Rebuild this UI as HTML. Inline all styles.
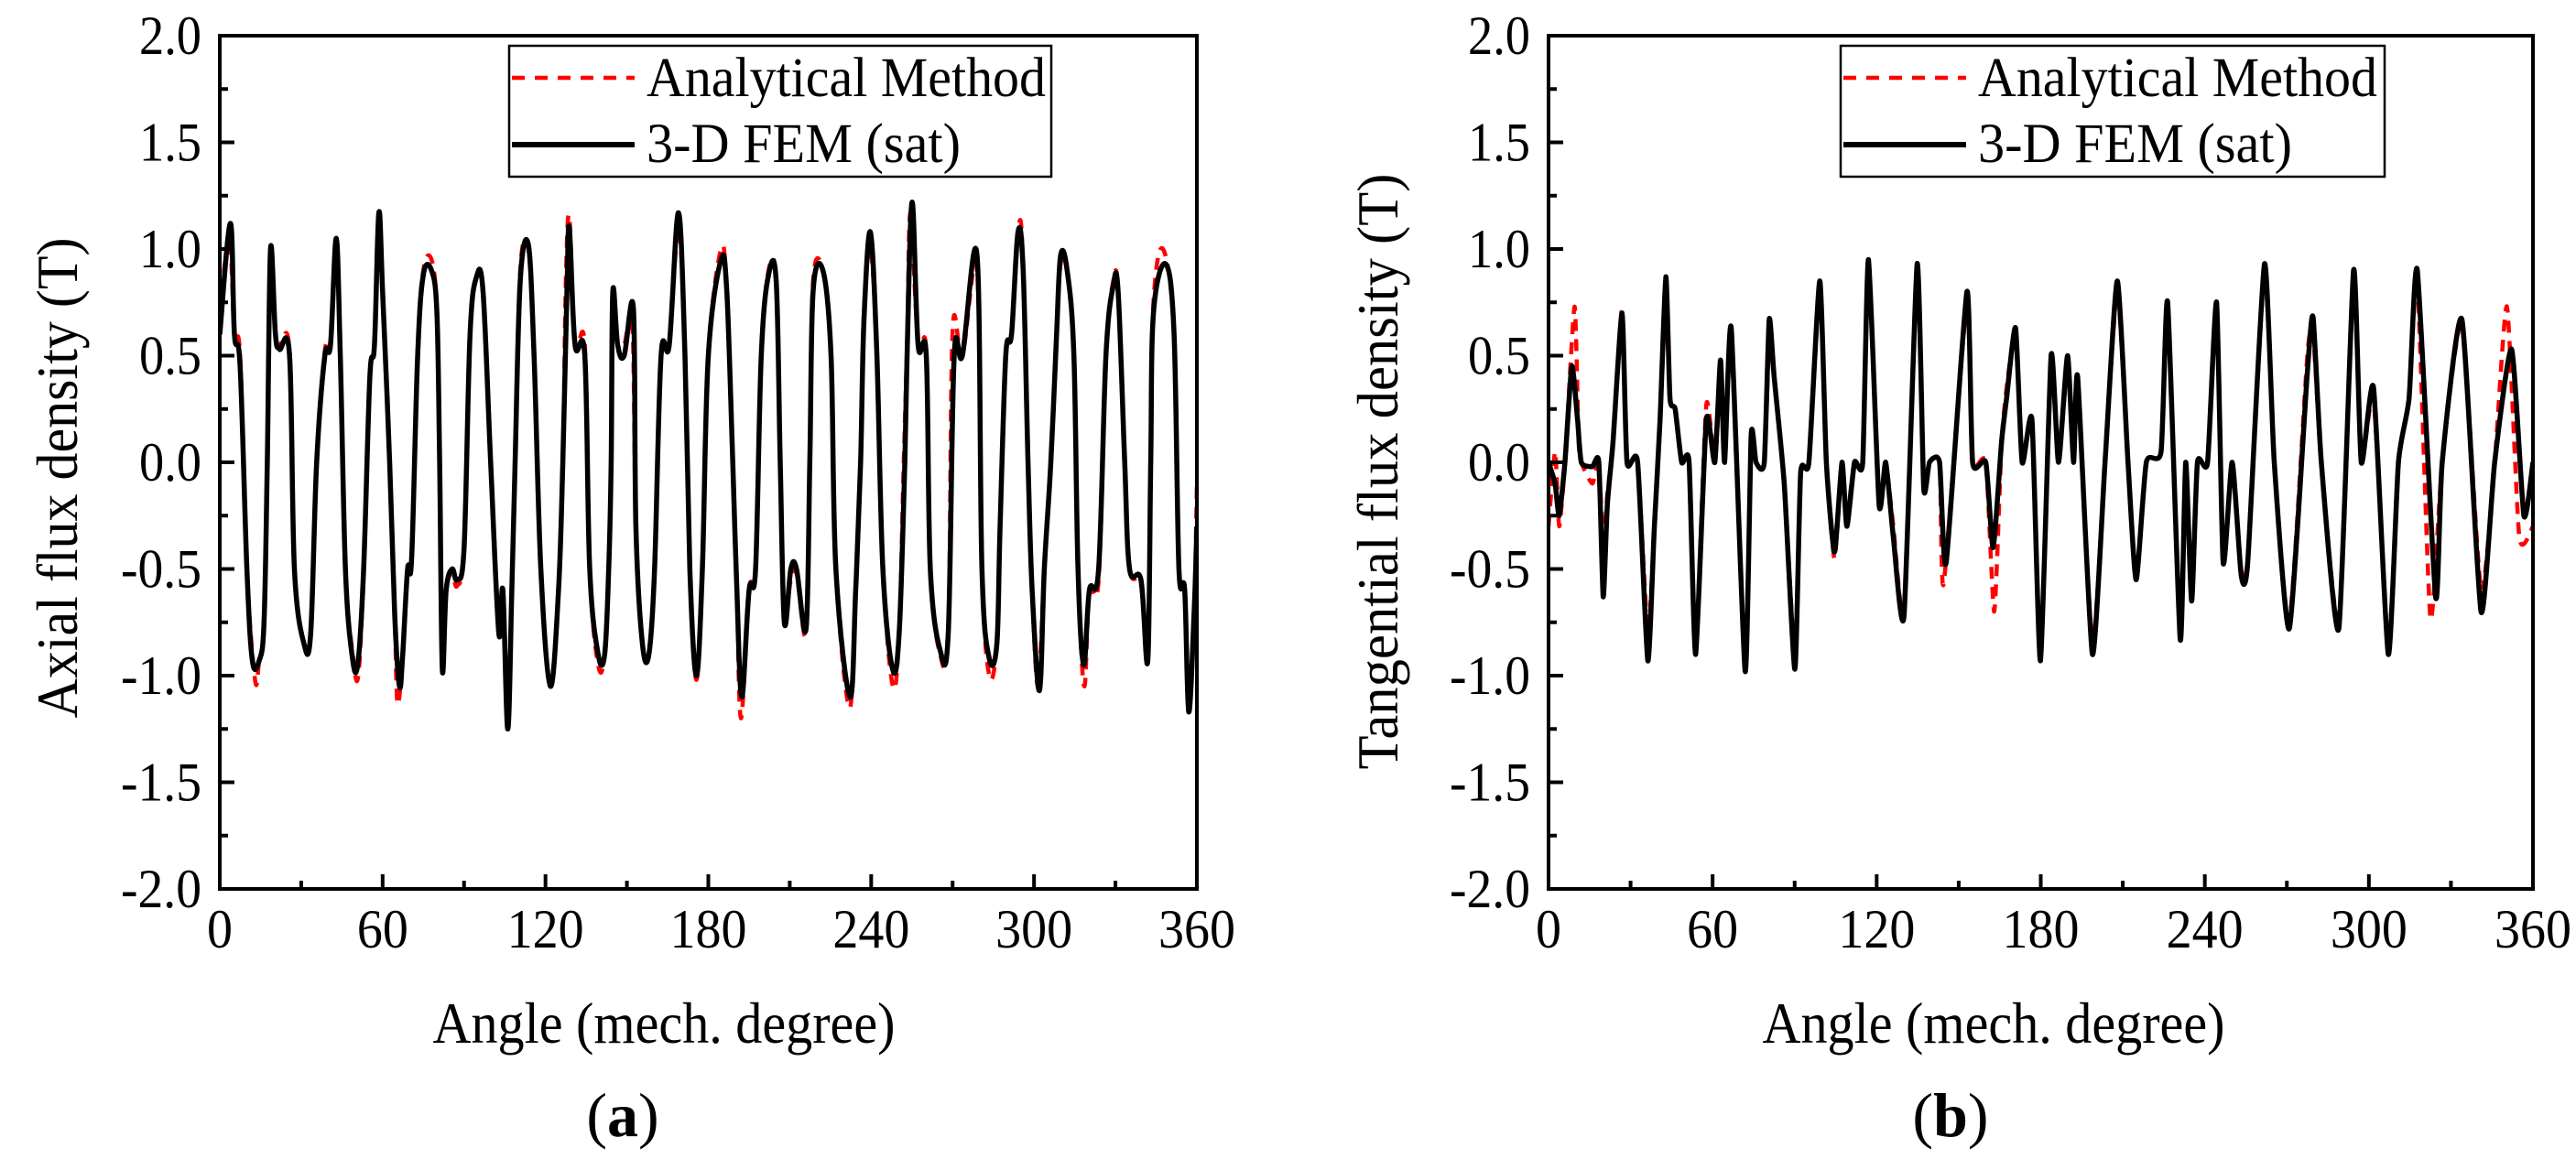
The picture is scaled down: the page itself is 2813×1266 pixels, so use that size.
<!DOCTYPE html>
<html><head><meta charset="utf-8"><style>
html,body{margin:0;padding:0;background:#fff;}
svg{display:block;}
svg text{font-family:"Liberation Serif","Times New Roman","DejaVu Serif",serif !important;}
</style></head><body>
<svg id="chart" width="2813" height="1266" viewBox="0 0 2813 1266" xmlns="http://www.w3.org/2000/svg" style="font-family:'Liberation Serif','Times New Roman','DejaVu Serif',serif"></svg>
<script>
// ---------- data ----------
const xTicks = [0,60,120,180,240,300,360];
const yTicks = [-2.0,-1.5,-1.0,-0.5,0.0,0.5,1.0,1.5,2.0];
const seriesNames = ["Analytical Method","3-D FEM (sat)"];

const axialFemAng = [0,3.9,5.4,7.5,10,12,14.5,16.3,17.5,18.7,20.5,22,25.7,27.5,31,33.5,35.7,38.7,40.8,42.9,44.4,46.3,48.7,50.8,53,55.3,57,58.6,60,62.6,64.4,66.2,67.4,69.2,70.7,72.9,75,78,80,81,82,83.4,85.6,87.4,90,92.2,94.6,97,99.8,102.8,104.3,106.1,107.6,108.8,110.7,113.7,115.8,118.3,121.8,124.8,126.4,127.9,128.8,130.9,134.5,136.3,139.4,141.8,143.3,144.2,144.8,146.6,149,152.4,153.3,155.7,158.1,160.2,162.6,165.6,169,171.4,173.2,175.6,177.8,180,184.7,186.8,189,190.4,192.3,195,197.4,199.5,202.2,205,206.5,208,210.4,212.5,216,217.4,218.6,222.2,225.2,227,232.2,234.3,236.1,237.3,239.7,242.1,244.3,247.9,250.3,252.4,253.3,255.1,257.3,260.3,261.8,265.4,268.4,270.6,273.6,279,280.8,283.5,286.3,287.5,289.6,291.7,294.1,296,297.8,299.3,302,303.8,306.2,308.3,309.8,312.2,314.7,316.2,318.3,320.4,323.8,326.5,329.2,331,333.4,335.2,339.4,341.9,343,344,348.5,351.6,353.4,355.5,357,359,360];
const axialFemVal = [0.6,1.12,0.6,0.45,-0.5,-0.93,-0.93,-0.75,0,1.0,0.6,0.53,0.5,-0.5,-0.85,-0.8,0,0.5,0.55,1.05,0.5,-0.5,-0.9,-0.95,-0.5,0.4,0.55,1.17,0.8,0,-0.7,-1.05,-0.9,-0.5,-0.45,0.5,0.88,0.9,0.7,0,-0.97,-0.6,-0.5,-0.55,-0.4,0.6,0.87,0.8,0,-0.8,-0.6,-1.25,-0.6,0,0.85,1.02,0.5,-0.5,-1.05,-0.6,0,0.8,1.1,0.55,0.5,-0.5,-0.9,-0.9,-0.5,0,0.8,0.55,0.5,0.72,-0.3,-0.85,-0.9,-0.5,0.5,0.55,1.17,0.5,-0.5,-1.0,-0.5,0.5,0.95,0.8,0,-0.55,-1.1,-0.6,-0.5,0.5,0.88,0.85,0,-0.75,-0.5,-0.5,-0.78,0,0.8,0.9,0.5,-0.5,-1.1,-0.6,0,0.65,1.08,0.5,-0.5,-0.97,-0.8,0,0.55,1.22,0.55,0.5,-0.5,-0.88,-0.8,0.5,0.5,0.97,-0.5,-0.92,-0.85,-0.3,0.5,0.6,1.08,0.9,0,-0.6,-1.07,-0.5,0,0.6,0.97,0.9,0.5,-0.5,-0.95,-0.6,-0.5,0.5,0.83,0.8,0,-0.5,-0.55,-0.93,0,0.7,0.93,0.6,-0.5,-0.6,-1.17,-0.7,-0.3];
const axialAnaAng = [0,3.5,5.4,7.5,10,13,14.5,16.3,17.5,18.7,20.5,22,25.7,27.5,31,33.5,35.7,38.7,40.8,42.9,44.4,46.3,49,51,53,55.3,57,58.6,60,62.6,64.4,65.5,67.4,69.2,70.7,72.9,75,78,80,81,82,83.4,85.6,87.4,90,92.2,94.6,97,99.8,102.8,104.3,106.1,107.6,108.8,110.7,113.7,115.8,118.3,121.8,124.8,126.4,127.5,128.8,130.9,134.5,136.3,139.4,141.8,143.3,144.2,144.8,146.6,149,152,153.3,155.7,158.1,160.2,162.6,165.6,169,171.4,173.2,175.6,177.8,180,184.7,186.8,189,190.4,192,195,197.4,199.5,202.2,205,206.5,208,210.4,212.5,216,217.4,218.6,222.2,225.2,227,232,234.3,236.1,237.3,239.7,242.1,244.3,248,250.3,252,253.3,254.5,257.3,260.3,261.8,265.4,268.4,270,273.6,279,280.8,283.5,286.3,287.5,289.6,291.7,294.5,296,297.8,299.3,301.5,303.8,306.2,308.3,309.8,312.2,314.7,316.2,318.5,320.4,323.8,326.5,329.2,331,333.4,335.2,339.4,341.9,343,344,347.5,351.6,353.4,355.5,357,359,360];
const axialAnaVal = [0.7,1.05,0.6,0.5,-0.5,-1.02,-0.93,-0.75,0,0.95,0.6,0.55,0.52,-0.5,-0.85,-0.8,0,0.52,0.57,1.0,0.5,-0.5,-0.9,-1.0,-0.5,0.4,0.55,1.1,0.8,0,-0.7,-1.13,-0.9,-0.5,-0.45,0.5,0.9,0.95,0.7,0,-0.9,-0.6,-0.52,-0.58,-0.4,0.6,0.86,0.8,0,-0.8,-0.6,-1.1,-0.6,0,0.9,1.0,0.5,-0.5,-1.05,-0.6,0,0.85,1.15,0.55,0.55,-0.5,-0.95,-0.9,-0.5,0,0.75,0.55,0.55,0.65,-0.3,-0.85,-0.9,-0.5,0.5,0.55,1.1,0.5,-0.5,-1.02,-0.5,0.5,1.0,0.8,0,-0.55,-1.2,-0.6,-0.5,0.5,0.9,0.85,0,-0.7,-0.55,-0.52,-0.8,0,0.85,0.9,0.5,-0.5,-1.15,-0.6,0,0.7,1.0,0.5,-0.5,-1.05,-0.8,0,0.6,1.17,0.55,0.52,-0.5,-0.9,-0.8,0.62,0.5,0.9,-0.5,-1.0,-0.85,-0.3,0.5,0.6,1.12,0.9,0,-0.6,-1.05,-0.5,0,0.6,0.93,0.9,0.5,-0.5,-1.05,-0.6,-0.55,0.5,0.85,0.8,0,-0.5,-0.57,-0.9,0,0.75,1.0,0.6,-0.5,-0.6,-1.1,-0.7,-0.1];

const tanFemAng = [0,2.4,3.9,6,8.5,10.6,12,16,18.4,20,21.5,23.6,26.9,28.7,32.6,36.3,38.7,40.8,42.9,44.4,46.3,48.7,51.4,53.8,57.7,60.8,62.9,64.4,66.8,71.9,74.1,75.9,78.9,80.7,82.5,86.2,90.1,92.2,95.2,99.2,101.6,104.6,107.3,109.1,111.9,114.9,117,120.9,123.3,126.1,130,134.8,137.2,139.3,143,145.4,153,155.1,159.9,162.6,165.7,167.5,170.8,173.2,176.8,179.9,183.8,186.5,189.8,192,193.5,198.9,203.5,208,211.9,214.9,218.6,224,226.4,231,233,235.2,237.3,241,244.3,246.7,250,253.3,255.7,261.8,265.4,270.9,277.5,279.6,282.6,289,294.4,297.2,301.7,307.1,310.8,314.7,317.7,324.4,326.8,334,341,346,352.2,356.7,360];
const tanFemVal = [0,-0.1,-0.25,0,0.45,0.2,0,-0.02,0,-0.63,-0.2,0.1,0.7,0,0,-0.93,-0.3,0.2,0.87,0.3,0.25,0,0,-0.9,0.2,0,0.48,0,0.63,-0.98,0.13,0,0,0.67,0.4,-0.1,-0.97,-0.05,0,0.85,0,-0.42,0,-0.3,0,0,0.95,-0.2,0,-0.35,-0.72,0.93,-0.12,0,0,-0.47,0.8,0,0,-0.4,0.1,0.3,0.63,0,0.2,-0.93,0.5,0,0.5,0,0.4,-0.9,0,0.85,0,-0.55,0,0.05,0.75,-0.83,0,-0.65,0,0,0.75,-0.47,0,-0.53,-0.47,0.93,0,-0.78,0.42,0.68,0,-0.78,0.9,0,0.35,-0.9,0,0.3,0.9,-0.63,0,0.67,-0.7,0,0.53,-0.25,0];
const tanAnaAng = [0,2.4,3.9,6,9.5,11,12,16,18.4,20,21.5,23.6,26.9,28.7,32.6,36.3,38.7,40.8,42.9,44.4,46.3,48.7,51.4,53.8,57.7,60.8,62.9,64.4,66.8,71.9,74.1,75.9,78.9,80.7,82.5,86.2,90.1,92.2,95.2,99.2,101.6,104.6,107.3,109.1,111.9,114.9,117,120.9,123.3,126.1,130,134.8,137.2,139.3,143,144.5,153,155.1,159.9,163,165.7,168,170.8,173.2,176.8,179.9,183.8,186.5,189.8,192,193.5,198.9,203.5,208,211.9,214.9,218.6,224,226.4,231,233,235.2,237.3,241,244.3,246.7,250,253.3,255.7,261.8,265.4,270.9,277.5,279.6,282.6,289,294.4,297.2,301.7,307.1,310.8,314.7,317.7,322.5,326.8,334,341,346,350.5,355,360];
const tanAnaVal = [-0.3,0.05,-0.3,0,0.73,0.1,0,-0.1,0,-0.4,-0.15,0.1,0.72,0,0,-0.8,-0.3,0.2,0.75,0.3,0.25,0,0,-0.85,0.27,0,0.4,0,0.55,-0.95,0.1,0,0,0.55,0.4,-0.1,-0.9,-0.05,0,0.8,0,-0.45,0,-0.25,0,0,0.9,-0.2,0,-0.3,-0.7,0.9,-0.1,0,0,-0.57,0.75,0,0,-0.7,0.1,0.4,0.6,0,0.2,-0.9,0.45,0,0.45,0,0.35,-0.85,0,0.8,0,-0.55,0,0.05,0.72,-0.8,0,-0.6,0,0,0.72,-0.45,0,-0.5,-0.45,0.88,0,-0.75,0.5,0.6,0,-0.75,0.85,0,0.3,-0.85,0,0.3,0.85,-0.73,0,0.65,-0.6,0,0.73,-0.35,-0.3];

// ---------- drawing ----------
const NS = "http://www.w3.org/2000/svg";
const svg = document.getElementById("chart");
const FONT = "Liberation Serif, Times New Roman, DejaVu Serif, serif";
function mk(tag, attrs, parent){const e=document.createElementNS(NS,tag);for(const k in attrs)e.setAttribute(k,attrs[k]);if(tag==="text")e.setAttribute("font-family",FONT);(parent||svg).appendChild(e);return e;}
function fit(el,len){el.setAttribute("textLength",len);el.setAttribute("lengthAdjust","spacingAndGlyphs");}
function squeeze(el,f){try{const w=el.getComputedTextLength();if(w>0)fit(el,(w*f).toFixed(1));}catch(e){}}

const panels = [
  {key:"axial", x0:240, x1:1307, y0:39, y1:971, ylabel:"Axial flux density (T)", ylen:525, ylx:62, yly:522, cap:"a", capx:680, xlabx:725, tension:0.35,
   leg:{x:556,y:50,w:592,h:143}, femA:axialFemAng, femV:axialFemVal, anaA:axialAnaAng, anaV:axialAnaVal},
  {key:"tangential", x0:1691, x1:2766, y0:39, y1:971, ylabel:"Tangential flux density (T)", ylen:651, ylx:1504, yly:515, cap:"b", capx:2130, xlabx:2177, tension:0.2,
   leg:{x:2010,y:50,w:594,h:143}, femA:tanFemAng, femV:tanFemVal, anaA:tanAnaAng, anaV:tanAnaVal}
];

panels.forEach(p=>{
  const g = mk("g",{});
  
  
  const X = v => p.x0 + (v-0)/(360-0)*(p.x1-p.x0);
  const Y = v => p.y1 - (v-(-2))/(4)*(p.y1-p.y0);

  const cp = mk("clipPath",{id:"clip-"+p.key},g);
  mk("rect",{x:p.x0,y:p.y0,width:p.x1-p.x0,height:p.y1-p.y0},cp);

  function path(A,V){
    const P=A.map((a,i)=>[X(a),Y(V[i])]);
    let d="M"+P[0][0].toFixed(1)+","+P[0][1].toFixed(1);
    const t=p.tension;
    for(let i=0;i<P.length-1;i++){
      const p0=P[Math.max(0,i-1)],p1=P[i],p2=P[i+1],p3=P[Math.min(P.length-1,i+2)];
      const c1x=p1[0]+(p2[0]-p0[0])*t/2, c1y=p1[1]+(p2[1]-p0[1])*t/2;
      const c2x=p2[0]-(p3[0]-p1[0])*t/2, c2y=p2[1]-(p3[1]-p1[1])*t/2;
      d+="C"+c1x.toFixed(1)+","+c1y.toFixed(1)+" "+c2x.toFixed(1)+","+c2y.toFixed(1)+" "+p2[0].toFixed(1)+","+p2[1].toFixed(1);
    }
    return d;
  }
  const ana = mk("path",{d:path(p.anaA,p.anaV),fill:"none",stroke:"#ff0000","stroke-width":4.5,"stroke-dasharray":"13,9","clip-path":"url(#clip-"+p.key+")","stroke-linejoin":"round"},g);
  
  
  const fem = mk("path",{d:path(p.femA,p.femV),fill:"none",stroke:"#000","stroke-width":5.5,"clip-path":"url(#clip-"+p.key+")","stroke-linejoin":"round"},g);
  
  

  const fr = mk("rect",{x:p.x0,y:p.y0,width:p.x1-p.x0,height:p.y1-p.y0,fill:"none",stroke:"#000","stroke-width":4},g);
  
  

  xTicks.forEach((t,i)=>{
    mk("line",{x1:X(t),x2:X(t),y1:p.y1,y2:p.y1-16,stroke:"#000","stroke-width":4},g);
    if(i<xTicks.length-1){const m=(t+xTicks[i+1])/2;mk("line",{x1:X(m),x2:X(m),y1:p.y1,y2:p.y1-9,stroke:"#000","stroke-width":4},g);}
    const tx = mk("text",{x:X(t),y:1035,"font-size":60,"text-anchor":"middle"},g);
    tx.textContent = String(t);
    
    
    fit(tx, 28*String(t).length);
  });
  yTicks.forEach((t,i)=>{
    mk("line",{x1:p.x0,x2:p.x0+16,y1:Y(t),y2:Y(t),stroke:"#000","stroke-width":4},g);
    if(i<yTicks.length-1){const m=(t+yTicks[i+1])/2;mk("line",{x1:p.x0,x2:p.x0+9,y1:Y(m),y2:Y(m),stroke:"#000","stroke-width":4},g);}
    const ty = mk("text",{x:p.x0-20,y:Y(t)+20,"font-size":60,"text-anchor":"end"},g);
    ty.textContent = t.toFixed(1);
    
    
    fit(ty, t<0 ? 88 : 68);
  });

  const xl = mk("text",{x:p.xlabx,y:1139,"font-size":64,"text-anchor":"middle"},g);
  xl.textContent = "Angle (mech. degree)";
  
  
  fit(xl, 505);
  const yl = mk("text",{x:0,y:0,"font-size":64,"text-anchor":"middle",transform:"translate("+(p.ylx+22)+","+p.yly+") rotate(-90)"},g);
  yl.textContent = p.ylabel;
  
  
  fit(yl, p.ylen);
  const cap = mk("text",{x:p.capx,y:1241,"font-size":68,"text-anchor":"middle"},g);
  cap.innerHTML = '(<tspan font-weight="bold">'+p.cap+'</tspan>)';
  
  

  const L = p.leg;
  const lg = mk("g",{},g);
  
  
  mk("rect",{x:L.x,y:L.y,width:L.w,height:L.h,fill:"#fff",stroke:"#000","stroke-width":2.5},lg);
  const e1 = mk("line",{x1:L.x+3,x2:L.x+137,y1:L.y+35,y2:L.y+35,stroke:"#ff0000","stroke-width":4.5,"stroke-dasharray":"14,11"},lg);
  
  
  const t1 = mk("text",{x:L.x+150,y:L.y+55,"font-size":61},lg);
  t1.textContent = seriesNames[0];
  fit(t1, 436);
  const e2 = mk("line",{x1:L.x+3,x2:L.x+137,y1:L.y+108,y2:L.y+108,stroke:"#000","stroke-width":6},lg);
  
  
  const t2 = mk("text",{x:L.x+150,y:L.y+127,"font-size":61},lg);
  t2.textContent = seriesNames[1];
  fit(t2, 343);
});
</script>
</body></html>
